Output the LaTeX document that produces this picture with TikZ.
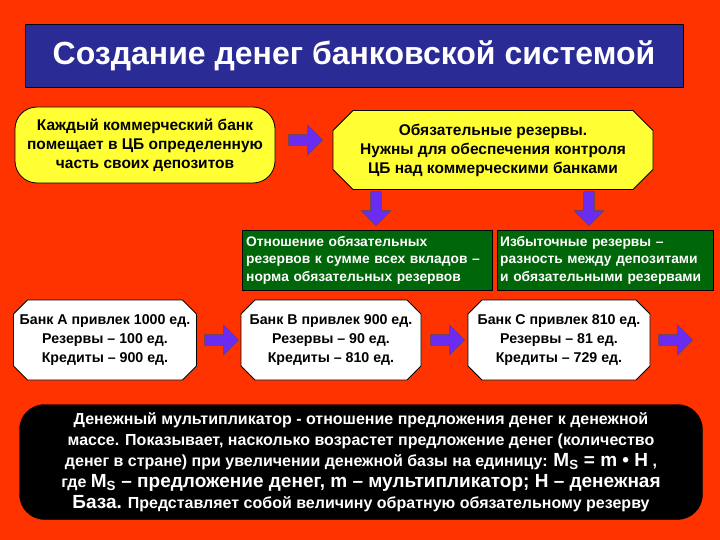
\documentclass[tikz,border=0pt]{standalone}
\usepackage{fontspec}
\setmainfont{Liberation Sans}
\usetikzlibrary{shapes.arrows,shapes.misc}
\definecolor{bg}{HTML}{FF3300}
\definecolor{ttl}{HTML}{2B2B96}
\definecolor{arr}{HTML}{6A2CF0}
\definecolor{grn}{HTML}{00660A}
\definecolor{yel}{HTML}{FFFF33}
\tikzset{
  arrowr/.style={single arrow, draw=black!70, fill=arr, minimum height=34pt, minimum width=30pt, single arrow head extend=4pt, inner sep=2pt},
  arrowd/.style={arrowr, shape border rotate=270},
  oct/.style={chamfered rectangle, chamfered rectangle xsep=10pt, chamfered rectangle ysep=10pt, draw=black, line width=0.8pt, align=center, font=\bfseries\fontsize{15.5}{19}\selectfont, inner sep=0pt},
  bank/.style={oct, fill=white, minimum height=80pt, chamfered rectangle xsep=4pt, font=\bfseries\fontsize{14.2}{19}\selectfont},
  gbox/.style={draw=black, fill=grn, text=white, align=left, font=\bfseries\fontsize{13.8}{17.5}\selectfont, inner ysep=6pt, anchor=north west, minimum height=53pt},
}
\begin{document}
\begin{tikzpicture}[x=1pt,y=-1pt]
\fill[bg] (0,0) rectangle (720,540);
\node[draw=black, line width=1pt, fill=ttl, minimum width=658pt, minimum height=63pt, text=white, font=\bfseries\fontsize{32}{36}\selectfont] (t) at (354,56) {Создание денег банковской системой};
\node[draw=black, line width=0.8pt, fill=yel, rounded corners=22pt, minimum width=260pt, minimum height=76pt, align=center, font=\bfseries\fontsize{15.5}{19}\selectfont, inner sep=0pt] (a) at (145,145) {Каждый коммерческий банк\\помещает в ЦБ определенную\\часть своих депозитов};
\node[oct, fill=yel, minimum width=320pt, minimum height=79pt] (b) at (493,150) {Обязательные резервы.\\Нужны для обеспечения контроля\\ЦБ над коммерческими банками};
\node[arrowr] (r1) at (303,140) {};
\node[arrowd] (d1) at (376,206) {};
\node[arrowd] (d2) at (589,206) {};
\node[gbox, text width=242pt, inner xsep=4pt] (g1) at (242,230) {Отношение обязательных\\резервов к сумме всех вкладов –\\норма обязательных резервов};
\node[gbox, text width=210pt, inner xsep=3pt] (g2) at (497,230) {Избыточные резервы –\\разность между депозитами\\и обязательными резервами};
\node[bank, minimum width=183pt] (ba) at (105,340) {Банк А привлек 1000 ед.\\Резервы – 100 ед.\\Кредиты – 900 ед.};
\node[bank, minimum width=180pt] (bb) at (331,340) {Банк В привлек 900 ед.\\Резервы – 90 ед.\\Кредиты – 810 ед.};
\node[bank, minimum width=182pt] (bc) at (559,340) {Банк С привлек 810 ед.\\Резервы – 81 ед.\\Кредиты – 729 ед.};
\node[arrowr] (r2) at (219,340) {};
\node[arrowr] (r3) at (445,340) {};
\node[arrowr] (r4) at (673,340) {};
\node[draw=black, fill=black, rounded corners=25pt, minimum width=683pt, minimum height=115pt, text=white, align=center, font=\bfseries\fontsize{16}{21}\selectfont, inner sep=0pt] (m) at (361,462) {Денежный мультипликатор - отношение предложения денег к денежной\\массе. Показывает, насколько возрастет предложение денег (количество\\денег в стране) при увеличении денежной базы на единицу: {\fontsize{19}{21}\selectfont M\textsubscript{S} = m • Н} ,\\где {\fontsize{19}{21}\selectfont M\textsubscript{S} – предложение денег, m – мультипликатор; Н – денежная}\\{\fontsize{19}{21}\selectfont База.} Представляет собой величину обратную обязательному резерву};
\end{tikzpicture}
\end{document}
